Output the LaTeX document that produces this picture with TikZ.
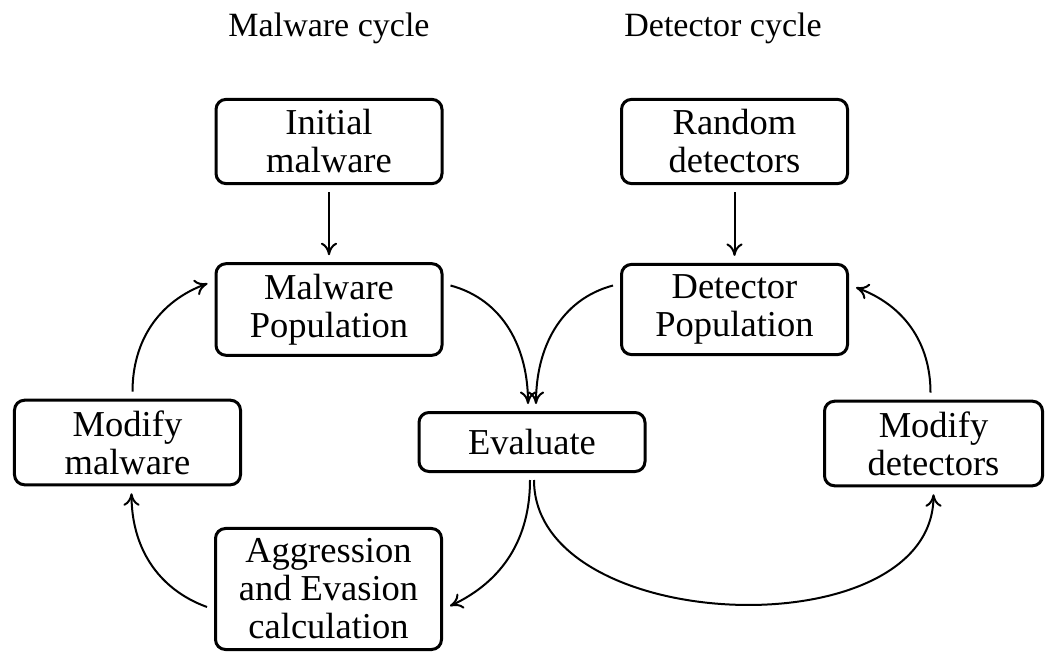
\documentclass[tikz,border=0pt]{standalone}
\usepackage{fontspec}
\setmainfont{Liberation Serif}
\usetikzlibrary{calc,arrows.meta}
\begin{document}
\begin{tikzpicture}[x=0.4pt,y=0.4pt,
  every node/.style={font=\fontsize{14.6}{15.2}\selectfont},
  title/.style={font=\fontsize{13.6}{15}\selectfont},
  box/.style={draw,line width=1.2pt,rounded corners=4pt,align=center,
    minimum width=90.4pt,minimum height=23.6pt,inner xsep=4pt,inner ysep=4.1pt,outer sep=3.4pt},
  arr/.style={line width=0.8pt,-{To[length=5pt,width=6.5pt]}}]
\useasboundingbox (0,0) rectangle (1045,-652);
\node[title] (t1) at (329,-28) {Malware cycle};
\node[title] (t2) at (723,-28) {Detector cycle};
\node[box] (init) at (329,-141.5) {Initial\\malware};
\node[box] (rand) at (734.5,-141.5) {Random\\detectors};
\node[box] (malpop) at (329,-309.5) {Malware\\Population};
\node[box] (detpop) at (734.5,-309.5) {Detector\\Population};
\node[box] (modmal) at (127.5,-442.5) {Modify\\malware};
\node[box] (eval) at (532,-442) {Evaluate};
\node[box,minimum width=87.2pt] (moddet) at (933.5,-443.5) {Modify\\detectors};
\node[box] (aggr) at (328.5,-589) {Aggression\\and Evasion\\calculation};
\draw[arr] (init) -- (malpop);
\draw[arr] (rand) -- (detpop);
\draw[arr] ($(malpop.east)+(0,24)$) to[out=-15,in=90] ($(eval.north)+(-4,0)$);
\draw[arr] ($(detpop.west)+(0,24)$) to[out=195,in=90] ($(eval.north)+(4,0)$);
\draw[arr] ($(modmal.north)+(5,0)$) to[out=90,in=200] ($(malpop.west)+(0,26)$);
\draw[arr] ($(aggr.west)+(0,-18)$) to[out=160,in=-90] ($(modmal.south)+(4,0)$);
\draw[arr] ($(eval.south)+(-2,0)$) to[out=-90,in=25] ($(aggr.east)+(0,-17)$);
\draw[arr] ($(eval.south)+(2,0)$) to[out=-90,in=-90] (moddet.south);
\draw[arr] ($(moddet.north)+(-3,0)$) to[out=90,in=-20] ($(detpop.east)+(0,22)$);
\end{tikzpicture}
\end{document}
